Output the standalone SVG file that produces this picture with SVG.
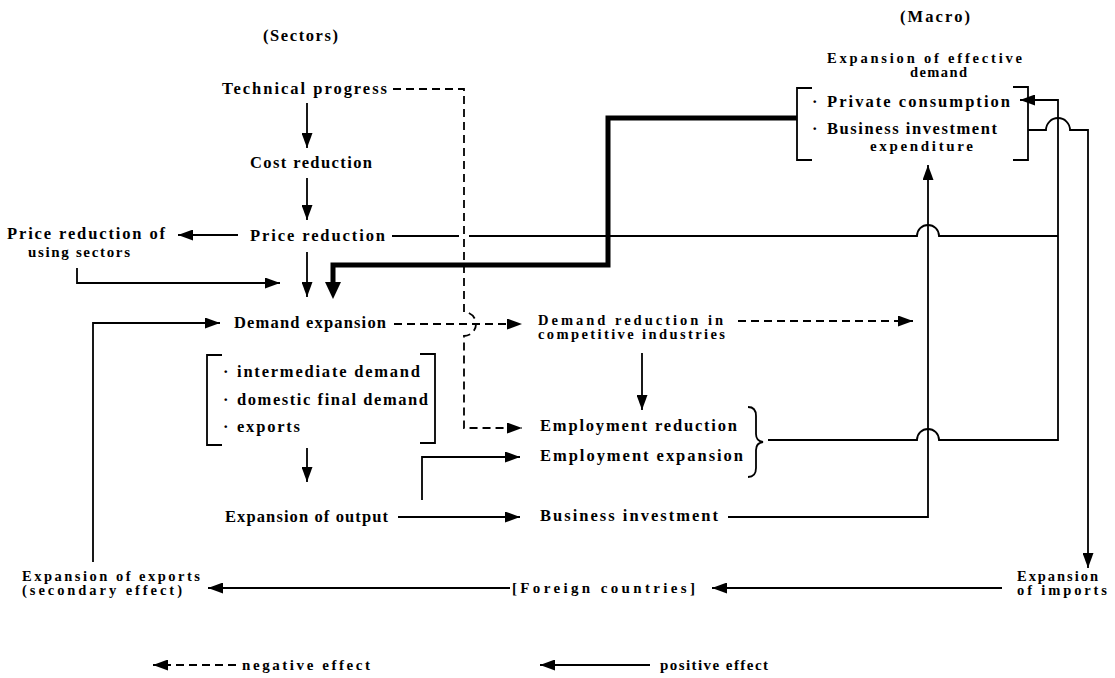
<svg xmlns="http://www.w3.org/2000/svg" width="1115" height="678" viewBox="0 0 1115 678">
<style>
text{font-family:"Liberation Serif","DejaVu Serif",serif;font-weight:bold;font-size:16.5px;fill:#000}
.c{font-size:15px}
.t{font-size:14.5px}
.ln{fill:none;stroke:#000;stroke-width:1.8}
.ds{fill:none;stroke:#000;stroke-width:1.8;stroke-dasharray:8,5}
.tk{fill:none;stroke:#000;stroke-width:5}
</style>
<defs>
<marker id="ah" markerWidth="15" markerHeight="11" refX="15" refY="5.5" orient="auto" markerUnits="userSpaceOnUse"><path d="M0,0 L15,5.5 L0,11 z" fill="#000"/></marker>
</defs>
<rect width="1115" height="678" fill="#fff"/>

<g id="labels">
<text x="263" y="41" textLength="75" lengthAdjust="spacing">(Sectors)</text>
<text x="900" y="22" textLength="70" lengthAdjust="spacing">(Macro)</text>
</g>

<g id="effective-demand">
<text class="t" x="827" y="63" textLength="195" lengthAdjust="spacing">Expansion of effective</text>
<text class="t" x="910" y="77" textLength="57" lengthAdjust="spacing">demand</text>
<path class="ln" d="M812,88 H797 V160 H812 M1013,87 H1028 V160 H1013"/>
<text x="812" y="107">·</text>
<text x="827" y="107" textLength="183" lengthAdjust="spacing">Private consumption</text>
<text x="812" y="134">·</text>
<text x="827" y="134" textLength="170" lengthAdjust="spacing">Business investment</text>
<text class="c" x="870" y="151" textLength="103" lengthAdjust="spacing">expenditure</text>
</g>

<g id="technical-progress"><text x="222" y="94" textLength="165" lengthAdjust="spacing">Technical progress</text></g>
<g id="cost-reduction"><text x="250" y="168" textLength="122" lengthAdjust="spacing">Cost reduction</text></g>
<g id="price-reduction"><text x="250" y="241" textLength="135" lengthAdjust="spacing">Price reduction</text></g>
<g id="price-reduction-using"><text x="7" y="239" textLength="158" lengthAdjust="spacing">Price reduction of</text><text class="c" x="28" y="257" textLength="102" lengthAdjust="spacing">using sectors</text></g>
<g id="demand-expansion"><text x="234" y="328" textLength="152" lengthAdjust="spacing">Demand expansion</text></g>
<g id="demand-components">
<path class="ln" d="M222,355 H207 V445 H222 M420,354 H435 V443 H420"/>
<text x="223" y="377">·</text><text x="237" y="377" textLength="183" lengthAdjust="spacing">intermediate demand</text>
<text x="223" y="405">·</text><text x="237" y="405" textLength="191" lengthAdjust="spacing">domestic final demand</text>
<text x="223" y="432">·</text><text x="237" y="432" textLength="63" lengthAdjust="spacing">exports</text>
</g>
<g id="expansion-output"><text x="225" y="522" textLength="163" lengthAdjust="spacing">Expansion of output</text></g>
<g id="demand-reduction"><text class="t" x="538" y="325" textLength="185" lengthAdjust="spacing">Demand reduction in</text><text class="t" x="538" y="339" textLength="187" lengthAdjust="spacing">competitive industries</text></g>
<g id="employment">
<text x="540" y="431" textLength="197" lengthAdjust="spacing">Employment reduction</text>
<text x="540" y="461" textLength="203" lengthAdjust="spacing">Employment expansion</text>
<path class="ln" d="M748,407 Q756,407 756,416 V434 Q756,441 763,442 Q756,443 756,450 V468 Q756,477 748,477"/>
</g>
<g id="business-investment"><text x="540" y="521" textLength="178" lengthAdjust="spacing">Business investment</text></g>
<g id="expansion-exports"><text class="t" x="22" y="581" textLength="178" lengthAdjust="spacing">Expansion of exports</text><text class="t" x="22" y="595" textLength="160" lengthAdjust="spacing">(secondary effect)</text></g>
<g id="foreign-countries"><text class="c" x="512" y="593" textLength="183" lengthAdjust="spacing">[Foreign countries]</text></g>
<g id="expansion-imports"><text class="t" x="1017" y="581" textLength="81" lengthAdjust="spacing">Expansion</text><text class="t" x="1017" y="595" textLength="90" lengthAdjust="spacing">of imports</text></g>
<g id="legend">
<path class="ds" d="M236,665 H153" marker-end="url(#ah)"/>
<text class="c" x="242" y="670" textLength="128" lengthAdjust="spacing">negative effect</text>
<path class="ln" d="M650,665 H540" marker-end="url(#ah)"/>
<text class="c" x="660" y="670" textLength="108" lengthAdjust="spacing">positive effect</text>
</g>

<g id="connectors">
<path class="ln" d="M307,103 V148" marker-end="url(#ah)"/>
<path class="ln" d="M307,178 V220" marker-end="url(#ah)"/>
<path class="ln" d="M238,235 H178" marker-end="url(#ah)"/>
<path class="ln" d="M307,252 V297" marker-end="url(#ah)"/>
<path class="ln" d="M77,268 V283 H280" marker-end="url(#ah)"/>
<path class="tk" d="M797,118 H608 V265 H333 V284"/>
<path d="M325,282 L341,282 L333,299 z" fill="#000"/>
<path class="ln" d="M392,236 H459 M469,236 H917 A11,11 0 0 1 939,236 H1058"/>
<path class="ln" d="M768,440 H917 A11,11 0 0 1 939,440 H1058 V100 H1020" marker-end="url(#ah)"/>
<path class="ln" d="M1028,130 H1046 A12,12 0 0 1 1070,130 H1088 V568" marker-end="url(#ah)"/>
<path class="ds" d="M393,89 H464 V312 A12,12 0 0 1 464,336 V428 H522" marker-end="url(#ah)"/>
<path class="ds" d="M394,324 H522" marker-end="url(#ah)"/>
<path class="ds" d="M738,321 H913" marker-end="url(#ah)"/>
<path class="ln" d="M642,353 V410" marker-end="url(#ah)"/>
<path class="ln" d="M307,448 V482" marker-end="url(#ah)"/>
<path class="ln" d="M422,500 V457 H520" marker-end="url(#ah)"/>
<path class="ln" d="M398,517 H520" marker-end="url(#ah)"/>
<path class="ln" d="M728,517 H928 V165" marker-end="url(#ah)"/>
<path class="ln" d="M93,562 V323 H220" marker-end="url(#ah)"/>
<path class="ln" d="M510,588 H208" marker-end="url(#ah)"/>
<path class="ln" d="M1002,588 H712" marker-end="url(#ah)"/>
</g>
</svg>
